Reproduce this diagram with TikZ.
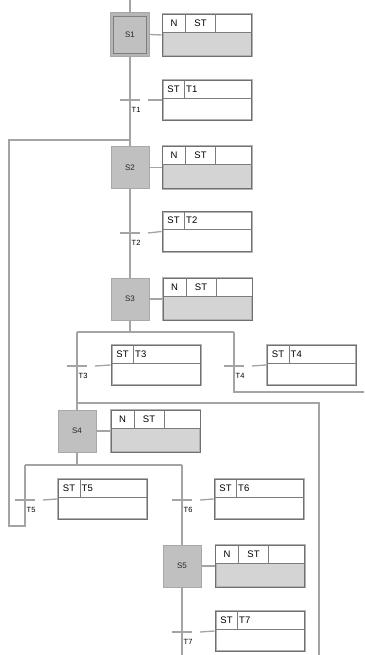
\documentclass[tikz,border=0pt]{standalone}
\usepackage{fontspec}
\setmainfont{Liberation Sans}
\definecolor{wirec}{HTML}{A4A4A4}
\definecolor{stepfill}{HTML}{C0C0C0}
\definecolor{stepedge}{HTML}{A8A8A8}
\definecolor{initfill}{HTML}{B6B6B6}
\definecolor{frameouter}{HTML}{B2B2B2}
\definecolor{frameinner}{HTML}{707070}
\definecolor{actfill}{HTML}{D4D4D4}
\definecolor{cellc}{HTML}{7C7C7C}

% action block attached to a step: header row N | ST | (empty), grey body
\newcommand{\stepaction}[2]{%
  \node[actbox, fill=actfill] (#1) at (#2) {};
  \fill[white] ([shift={(1,1)}]#1.north west) rectangle ([shift={(-1,19)}]#1.north east);
  \draw[frame] ([shift={(1,1)}]#1.north west) rectangle ([shift={(-1,-1)}]#1.south east);
  \draw[cell] ([shift={(1,19)}]#1.north west) -- ([shift={(-1,19)}]#1.north east);
  \draw[cell] ([shift={(24,1)}]#1.north west) -- ([shift={(24,19)}]#1.north west);
  \draw[cell] ([shift={(54,1)}]#1.north west) -- ([shift={(54,19)}]#1.north west);
  \node[hdr] at ([shift={(12.5,10)}]#1.north west) {N};
  \node[hdr] at ([shift={(39,10)}]#1.north west) {ST};
}
% condition block attached to a transition: header row ST | name, white body
\newcommand{\transaction}[3]{%
  \node[actbox, fill=white, minimum height=40pt] (#1) at (#2) {};
  \draw[frame] ([shift={(1,1)}]#1.north west) rectangle ([shift={(-1,-1)}]#1.south east);
  \draw[cell] ([shift={(1,19)}]#1.north west) -- ([shift={(-1,19)}]#1.north east);
  \draw[cell] ([shift={(23,1)}]#1.north west) -- ([shift={(23,19)}]#1.north west);
  \node[hdr] at ([shift={(12,10)}]#1.north west) {ST};
  \node[hdr, anchor=west] at ([shift={(24.5,10)}]#1.north west) {#3};
}
% transition bar with its label and the dashed link to its condition block
\newcommand{\transbar}[3]{%
  \draw[wire] ([shift={(-10,0)}]#1) -- ([shift={(10,0)}]#1);
  \draw[wire] ([shift={(18,0)}]#1) -- (#2.west);
  \node[tlabel] at ([shift={(1.5,10)}]#1) {#3};
}

\begin{document}
\begin{tikzpicture}[x=1pt, y=-1pt,
  wire/.style={draw=wirec, line width=1.3pt},
  stepbox/.style={draw=stepedge, fill=stepfill, line width=1pt,
    minimum width=38pt, minimum height=42pt, inner sep=0pt,
    font=\fontsize{8}{9}\selectfont, text=black!85},
  actbox/.style={draw=frameouter, line width=2pt, minimum width=89pt,
    minimum height=42pt, inner sep=0pt},
  frame/.style={draw=frameinner, line width=0.6pt},
  cell/.style={draw=cellc, line width=0.6pt},
  hdr/.style={inner sep=0pt, font=\fontsize{9.5}{10}\selectfont},
  tlabel/.style={anchor=west, inner sep=0pt, font=\fontsize{7.5}{8}\selectfont}]

\useasboundingbox[fill=white] (0,0) rectangle (364,655);

% ---- steps ----
\node[stepbox, fill=initfill, minimum width=39pt, minimum height=44pt] (S1) at (130,34.5) {};
\node[draw=stepedge!75!black, fill=stepfill, line width=0.8pt, minimum width=33pt,
  minimum height=37pt, inner sep=0pt, font=\fontsize{8}{9}\selectfont, text=black!85]
  (S1in) at (S1.center) {S1};
\node[stepbox] (S2) at (130,167.5) {S2};
\node[stepbox] (S3) at (130,299) {S3};
\node[stepbox] (S4) at (77,431) {S4};
\node[stepbox] (S5) at (182,566) {S5};

% ---- action blocks ----
\stepaction{A1}{207,35}
\stepaction{A2}{207,167.5}
\stepaction{A3}{207.5,299}
\stepaction{A4}{155.5,431}
\stepaction{A5}{260,566}

% ---- condition blocks ----
\transaction{C1}{207,100}{T1}
\transaction{C2}{207,231.5}{T2}
\transaction{C3}{156,365}{T3}
\transaction{C4}{311.5,365}{T4}
\transaction{C5}{102.5,499}{T5}
\transaction{C6}{259,499}{T6}
\transaction{C7}{260,631}{T7}

% ---- transition points and routing corners ----
\coordinate (top) at (130,0);
\coordinate (t1) at (130,100);
\coordinate (t2) at (130,233);
\coordinate (j3) at (130,332);
\coordinate (d3l) at (77,332);
\coordinate (d3r) at (234,332);
\coordinate (t3) at (77,366);
\coordinate (t4) at (234,366);
\coordinate (r4) at (234,392);
\coordinate (out4) at (364,392);
\coordinate (in4) at (77,403);
\coordinate (in4r) at (319,403);
\coordinate (in4b) at (319,655);
\coordinate (j4) at (77,465);
\coordinate (d4l) at (25,465);
\coordinate (d4r) at (182,465);
\coordinate (t5) at (25,500);
\coordinate (t6) at (182,500);
\coordinate (l5a) at (25,526);
\coordinate (l5b) at (9,526);
\coordinate (l5c) at (9,140);
\coordinate (l5d) at (130,140);
\coordinate (t7) at (182,632);
\coordinate (bot) at (182,655);

% ---- sequence lines ----
\draw[wire] (top) -- (S1.north);
\draw[wire] (S1.south) -- (S2.north);
\draw[wire] (S2.south) -- (S3.north);
\draw[wire] (S3.south) -- (j3);
\draw[wire] (d3l) -- (d3r);
\draw[wire] (d3l) -- (S4.north);
\draw[wire] (d3r) -- (r4) -- (out4);
\draw[wire] (in4) -- (in4r) -- (in4b);
\draw[wire] (S4.south) -- (j4);
\draw[wire] (d4l) -- (d4r);
\draw[wire] (d4l) -- (l5a) -- (l5b) -- (l5c) -- (l5d);
\draw[wire] (d4r) -- (S5.north);
\draw[wire] (S5.south) -- (bot);

% ---- step to action links ----
\draw[wire] (S1.east) -- (A1.west);
\draw[wire] (S2.east) -- (A2.west);
\draw[wire] (S3.east) -- (A3.west);
\draw[wire] (S4.east) -- (A4.west);
\draw[wire] (S5.east) -- (A5.west);

% ---- transitions ----
\transbar{t1}{C1}{T1}
\transbar{t2}{C2}{T2}
\transbar{t3}{C3}{T3}
\transbar{t4}{C4}{T4}
\transbar{t5}{C5}{T5}
\transbar{t6}{C6}{T6}
\transbar{t7}{C7}{T7}
\end{tikzpicture}
\end{document}
